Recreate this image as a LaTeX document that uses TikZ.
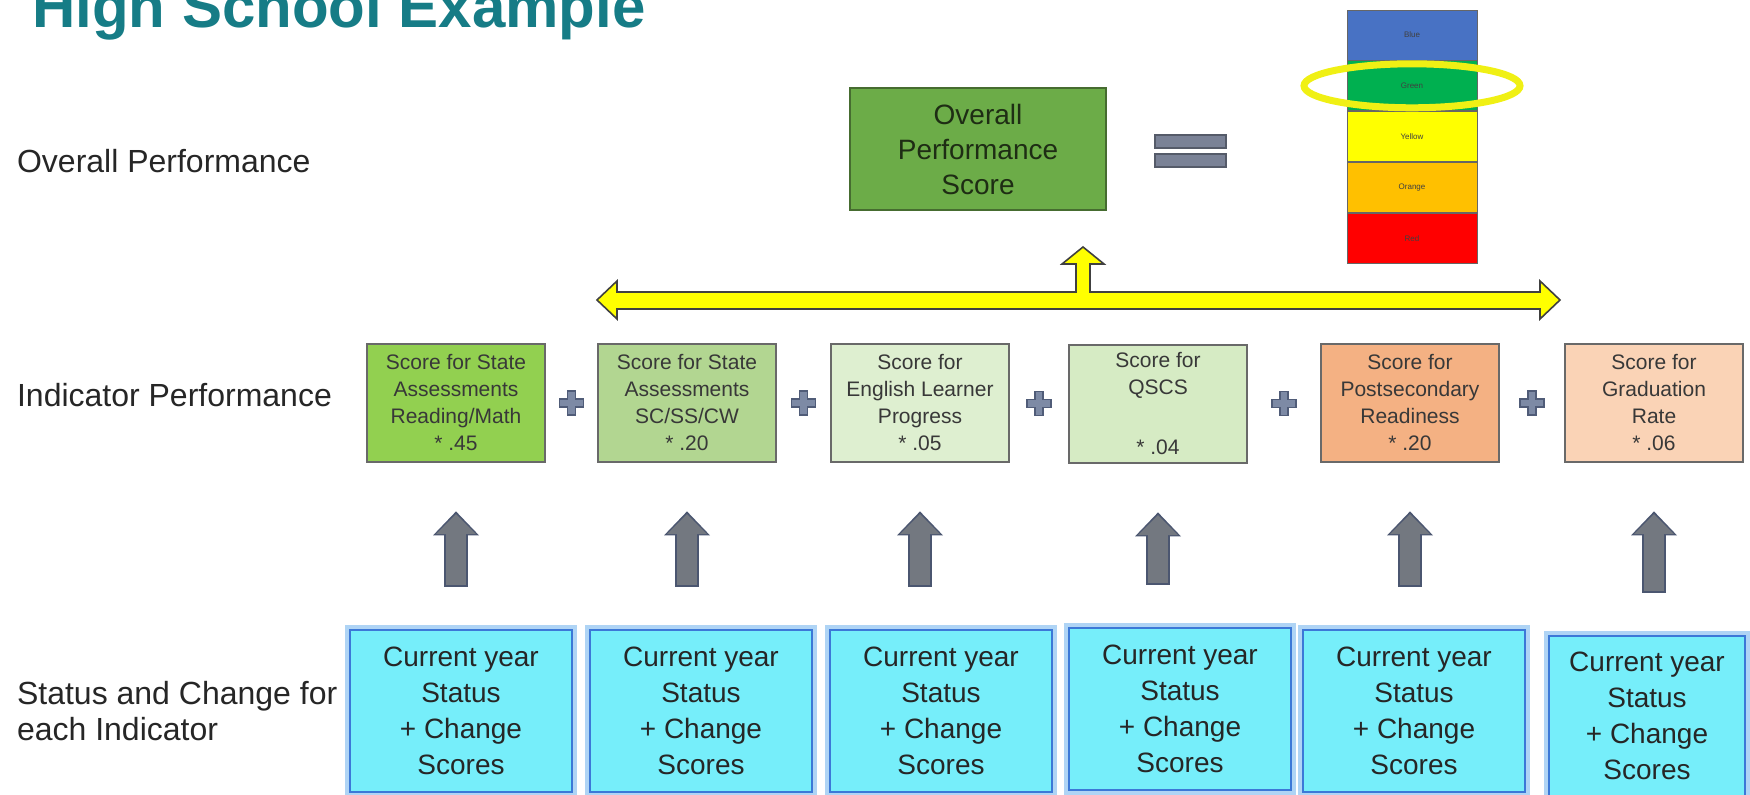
\documentclass[tikz,border=0pt]{standalone}
\usepackage{fontspec}
\setmainfont{Liberation Sans}
\setsansfont{Liberation Sans}
\usetikzlibrary{positioning,calc,arrows.meta}

\definecolor{titleteal}{RGB}{22,124,134}
\definecolor{opsgreen}{RGB}{108,172,72}
\definecolor{opsedge}{RGB}{70,108,48}
\definecolor{opstext}{RGB}{30,45,20}
\definecolor{scoreA}{RGB}{146,208,80}
\definecolor{scoreB}{RGB}{178,214,145}
\definecolor{scoreC}{RGB}{222,239,208}
\definecolor{scoreD}{RGB}{214,235,196}
\definecolor{scoreE}{RGB}{244,177,131}
\definecolor{scoreF}{RGB}{250,211,182}
\definecolor{scoreedge}{RGB}{105,105,105}
\definecolor{plusgray}{RGB}{125,138,165}
\definecolor{plusedge}{RGB}{80,92,120}
\definecolor{arrowgray}{RGB}{115,120,128}
\definecolor{arrowedge}{RGB}{75,86,112}
\definecolor{statuscyan}{RGB}{118,238,250}
\definecolor{statusedge}{RGB}{60,120,215}
\definecolor{statusglow}{RGB}{175,212,245}
\definecolor{bandblue}{RGB}{72,114,196}
\definecolor{bandgreen}{RGB}{0,176,80}
\definecolor{bandyellow}{RGB}{255,255,0}
\definecolor{bandorange}{RGB}{255,192,0}
\definecolor{bandred}{RGB}{255,0,0}
\definecolor{ringyellow}{RGB}{240,240,20}
\definecolor{equalgray}{RGB}{122,130,150}
\definecolor{yellowfill}{RGB}{255,255,0}

\tikzset{plus sign/.pic={
  \filldraw[fill=plusgray, draw=plusedge, line width=0.6pt]
    (-2pt,-6pt) -- (2pt,-6pt) -- (2pt,-2pt) -- (6pt,-2pt) -- (6pt,2pt) -- (2pt,2pt)
    -- (2pt,6pt) -- (-2pt,6pt) -- (-2pt,2pt) -- (-6pt,2pt) -- (-6pt,-2pt) -- (-2pt,-2pt) -- cycle;}}

\begin{document}
\begin{tikzpicture}[x=0.5pt, y=-0.5pt,
  row label/.style={font=\fontsize{16}{18}\selectfont, text=black!85},
  overall node/.style={rectangle, draw=opsedge, line width=1.2pt, fill=opsgreen, minimum width=128pt, minimum height=61pt, align=center, text=opstext, font=\fontsize{14}{17.5}\selectfont},
  score node/.style={rectangle, draw=scoreedge, line width=1pt, minimum width=89pt, minimum height=59pt, inner sep=2pt, align=center, text=black!78, font=\fontsize{10.5}{13.5}\selectfont},
  status node/.style={rectangle, draw=statusedge, line width=1.3pt, fill=statuscyan, preaction={draw=statusglow, line width=5pt}, minimum width=111pt, minimum height=81pt, align=center, text=black!85, font=\fontsize{14}{18}\selectfont},
  band node/.style={rectangle, draw=black!60, line width=0.4pt, minimum width=65pt, minimum height=25pt, inner sep=0pt, text=black!75, font=\fontsize{4}{5}\selectfont},
  highlight ring/.style={draw=ringyellow, line width=3.5pt},
  equal bar/.style={fill=equalgray, draw=equalgray!70!black, line width=0.6pt},
  up arrow/.style={preaction={draw=arrowedge, line width=12pt, shorten <=21pt, shorten >=24.2pt, -{Triangle[width=23pt,length=12pt,line width=0pt]}},
    draw=arrowgray, line width=10pt, shorten <=21.7pt, shorten >=25.6pt, -{Triangle[width=20pt,length=10pt,line width=0pt]}}]
\tikzstyle{every node}=[font=\sffamily]
\useasboundingbox (0,0) rectangle (1750,795);

% title and row labels
\node[anchor=base west, text=titleteal, font=\fontsize{30}{34}\selectfont\bfseries] (title) at (25,28) {High School Example};
\node[row label, anchor=base west] (lab1) at (10,173) {Overall Performance};
\node[row label, anchor=base west] (lab2) at (10,407) {Indicator Performance};
\node[row label, anchor=west, align=left] (lab3) at (10,711) {Status and Change for\\each Indicator};

% overall score = colour
\node[overall node] (ops) at (978,149) {Overall\\Performance\\Score};
\filldraw[equal bar] (1155,135) rectangle (1226,148);
\filldraw[equal bar] (1155,154) rectangle (1226,167);

\node[band node, fill=bandblue] (blue) at (1412,35) {Blue};
\node[band node, fill=bandgreen, below=0pt of blue] (green) {Green};
\node[band node, fill=bandyellow, below=0pt of green] (yellow) {Yellow};
\node[band node, fill=bandorange, below=0pt of yellow] (orange) {Orange};
\node[band node, fill=bandred, below=0pt of orange] (red) {Red};
\draw[highlight ring] (green.center) ellipse [x radius=54pt, y radius=11pt];

% yellow arrow
\filldraw[fill=yellowfill, draw=black!75, line width=0.8pt]
  (597,300) -- (617,281) -- (617,292) -- (1076,292) -- (1076,264) -- (1062,264) -- (1083,247)
  -- (1104,264) -- (1090,264) -- (1090,292) -- (1540,292) -- (1540,281) -- (1560,300)
  -- (1540,319) -- (1540,309) -- (617,309) -- (617,319) -- cycle;

% indicator scores
\node[score node, fill=scoreA] (sc1) at (456,403) {Score for State\\Assessments\\Reading/Math\\* .45};
\node[score node, fill=scoreB] (sc2) at (687,403) {Score for State\\Assessments\\SC/SS/CW\\* .20};
\node[score node, fill=scoreC] (sc3) at (920,403) {Score for\\English Learner\\Progress\\* .05};
\node[score node, fill=scoreD] (sc4) at (1158,404) {Score for\\QSCS\\[16.5pt]* .04};
\node[score node, fill=scoreE] (sc5) at (1410,403) {Score for\\Postsecondary\\Readiness\\* .20};
\node[score node, fill=scoreF] (sc6) at (1654,403) {Score for\\Graduation\\Rate\\* .06};

\pic at ($(sc1.east)!.5!(sc2.west)$) {plus sign};
\pic at ($(sc2.east)!.5!(sc3.west)$) {plus sign};
\pic at ($(sc3.east)!.5!(sc4.west)$) {plus sign};
\pic at ($(sc4.east)!.5!(sc5.west)$) {plus sign};
\pic at ($(sc5.east)!.5!(sc6.west)$) {plus sign};

% status and change
\node[status node] (st1) at (461,711) {Current year\\Status\\+ Change\\Scores};
\node[status node] (st2) at (701,711) {Current year\\Status\\+ Change\\Scores};
\node[status node] (st3) at (941,711) {Current year\\Status\\+ Change\\Scores};
\node[status node] (st4) at (1180,709) {Current year\\Status\\+ Change\\Scores};
\node[status node] (st5) at (1414,711) {Current year\\Status\\+ Change\\Scores};
\node[status node, minimum width=98pt, minimum height=80pt] (st6) at (1647,716) {Current year\\Status\\+ Change\\Scores};

\draw[up arrow] (st1.north -| sc1.south) -- (sc1.south);
\draw[up arrow] (st2.north -| sc2.south) -- (sc2.south);
\draw[up arrow] (st3.north -| sc3.south) -- (sc3.south);
\draw[up arrow] (st4.north -| sc4.south) -- (sc4.south);
\draw[up arrow] (st5.north -| sc5.south) -- (sc5.south);
\draw[up arrow] (st6.north -| sc6.south) -- (sc6.south);
\end{tikzpicture}
\end{document}
